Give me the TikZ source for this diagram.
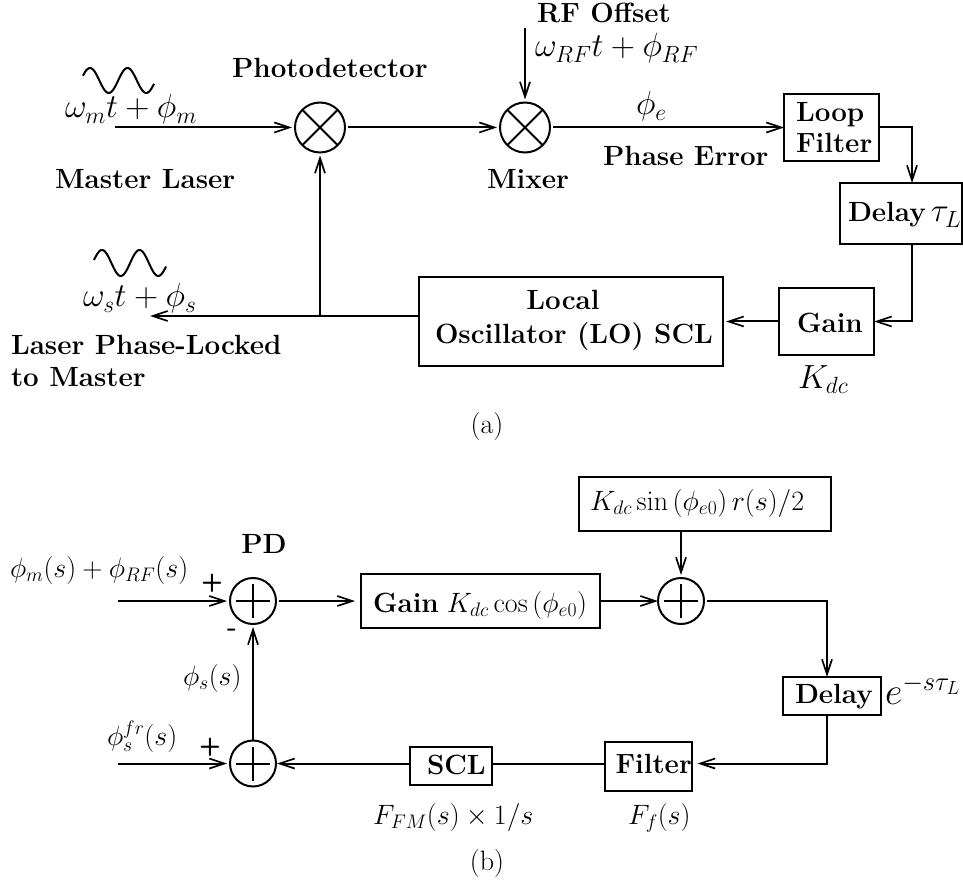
\RequirePackage{fix-cm}
\documentclass[tikz,border=0pt]{standalone}
\usetikzlibrary{arrows.meta}
\tikzset{
  >={Straight Barb[length=15pt,width=10pt,line width=1.7pt]},
  every path/.style={line width=2pt},
  boxn/.style={draw,line width=2pt,inner sep=0pt,outer sep=0pt},
  sumn/.style={draw,circle,line width=2pt,inner sep=0pt,outer sep=0pt,minimum size=46pt},
  mixn/.style={draw,circle,line width=2pt,inner sep=0pt,outer sep=0pt,minimum size=50pt},
  txt/.style={inner sep=0pt,outer sep=0pt,anchor=base west},
  bl/.style={txt,font=\fontsize{27.8}{32}\selectfont\bfseries},
  mb/.style={txt,font=\fontsize{33.5}{40}\selectfont},
  mm/.style={txt,font=\fontsize{28}{32}\selectfont},
  conn/.style={->,line width=2pt},
  gapo/.style={shorten <=3pt},
  gapi/.style={shorten >=3pt},
}
\begin{document}
\begin{tikzpicture}[x=1pt,y=-1pt]
\useasboundingbox (0,0) rectangle (963,882);
% ---------- (a) ----------
\node[mixn] (pd) at (320,127.5) {};
\draw (pd.45) -- (pd.225) (pd.135) -- (pd.315);
\node[mixn] (mx) at (525,127.5) {};
\draw (mx.45) -- (mx.225) (mx.135) -- (mx.315);
\node[boxn,minimum width=95pt,minimum height=67pt] (loop) at (831.5,127.5) {};
\node[boxn,minimum width=122pt,minimum height=61pt] (dly) at (901,213.5) {};
\node[boxn,minimum width=95pt,minimum height=67pt] (gain) at (826.5,321.5) {};
\node[boxn,minimum width=304pt,minimum height=89pt] (lo) at (571,321.5) {};
\coordinate (min) at (115,127.5);
\coordinate (rfin) at (525,28);
\coordinate (lout) at (150,316);
\coordinate (lob) at (419,316);
\coordinate (jn) at (320,316);
\coordinate (lc) at (912,127.5);
\coordinate (dg) at (912,321.5);
\draw[conn,gapi] (min) -- (pd);
\draw[conn,gapo,gapi] (pd) -- (mx);
\draw[conn,gapi] (rfin) -- (mx);
\draw[conn,gapo] (mx) -- (loop);
\draw[conn] (loop.east) -- (lc) -- (dly.north -| lc);
\draw[conn] (dly.south -| dg) -- (dg) -- (gain.east);
\draw[conn,gapi] (gain.west) -- (lo.east);
\draw[conn] (lob) -- (lout);
\draw[conn,gapi] (jn) -- (pd);
\draw (83,80.5) plot[domain=83:154,samples=70,smooth] (\x,{80.5-12.5*cos((\x-90)*9.6)});
\draw (94,263) plot[domain=94:166,samples=70,smooth] (\x,{263-13*cos((\x-102)*9.6)});
\node[mb] (t1) at (65,118) {$\omega_m t+\phi_m$};
\node[bl] (t2) at (232,78) {Photodetector};
\node[bl] (t3) at (55,189) {Master Laser};
\node[bl] (t4) at (537,23) {RF Offset};
\node[mb] (t5) at (535,57) {$\omega_{RF}t+\phi_{RF}$};
\node[mb] (t6) at (636,115) {$\phi_e$};
\node[bl] (t7) at (603,166) {Phase Error};
\node[bl] (t8) at (487,189) {Mixer};
\node[bl] (t9) at (796,122) {Loop};
\node[bl] (t10) at (796,153) {Filter};
\node[bl] (t11) at (848,222) {Delay\hspace{5pt}\fontsize{33.5}{40}\selectfont$\tau_L$};
\node[bl] (t12) at (435,343) {Oscillator (LO) SCL};
\node[bl,anchor=base] (t13) at (563,310) {Local};
\node[bl] (t14) at (797,332) {Gain};
\node[mb] (t15) at (798,388) {$K_{dc}$};
\node[mb] (t16) at (83,307) {$\omega_s t+\phi_s$};
\node[bl] (t17) at (11,354) {Laser Phase-Locked};
\node[bl] (t18) at (11,386) {to Master};
\node[mm,anchor=base] (t19) at (487,433) {(a)};
% ---------- (b) ----------
\node[sumn] (s1) at (253,601) {};
\draw (s1.center) ++(-17,0) -- ++(34,0) (s1.center) ++(0,-17) -- ++(0,34);
\node[sumn] (s2) at (681,601) {};
\draw (s2.center) ++(-17,0) -- ++(34,0) (s2.center) ++(0,-17) -- ++(0,34);
\node[sumn] (s3) at (253,763.5) {};
\draw (s3.center) ++(-17,0) -- ++(34,0) (s3.center) ++(0,-17) -- ++(0,34);
\node[boxn,minimum width=239pt,minimum height=54pt] (gb) at (480.5,601) {};
\node[boxn,minimum width=252.5pt,minimum height=54pt] (sb) at (704.75,504) {};
\node[boxn,minimum width=98pt,minimum height=38pt] (db) at (832,696) {};
\node[boxn,minimum width=86.5pt,minimum height=49pt] (fb) at (648.25,766.5) {};
\node[boxn,minimum width=82pt,minimum height=38pt] (cb) at (450.5,766) {};
\coordinate (in1) at (118,601);
\coordinate (in3) at (118,763.5);
\coordinate (cr) at (827,601);
\coordinate (cd) at (827,763.5);
\coordinate (fr) at (691.5,763.5);
\coordinate (fl) at (605,763.5);
\coordinate (cbr) at (491.5,763.5);
\coordinate (cbl) at (409.5,763.5);
\draw[conn,gapi] (in1) -- (s1);
\draw[conn,gapo,shorten >=6pt] (s1) -- (gb.west);
\draw[conn] (gb.east) -- (s2);
\draw[conn,gapi] (sb.south -| s2) -- (s2);
\draw[conn,gapo] (s2) -- (cr) -- (db.north -| cr);
\draw[conn,shorten >=6pt] (db.south -| cd) -- (cd) -- (fr);
\draw (fl) -- (cbr);
\draw[conn,shorten >=1pt] (cbl) -- (s3);
\draw[conn,gapi] (in3) -- (s3);
\draw[conn,gapi] (s3) -- (s1);
\node[mm] (u1) at (10,577) {$\phi_m(s)+\phi_{RF}(s)$};
\node[bl,anchor=base] (u2) at (264,553) {PD};
\node[txt,anchor=center,font=\fontsize{25}{30}\selectfont\sffamily\bfseries] (u3) at (212,583) {+};
\node[txt,anchor=center,font=\fontsize{28}{30}\selectfont\sffamily\bfseries] (u4) at (232,633) {-};
\node[txt,anchor=center,font=\fontsize{25}{30}\selectfont\sffamily\bfseries] (u5) at (210,747) {+};
\node[mm] (u6) at (183,685) {$\phi_s(s)$};
\node[mm] (u7) at (107,745) {$\phi_s^{fr}(s)$};
\node[bl] (u8) at (373,612) {Gain\hspace{8pt}\fontsize{28}{32}\selectfont$K_{dc}\cos\left(\phi_{e0}\right)$};
\node[mm] (u9) at (590,510) {$K_{dc}\sin\left(\phi_{e0}\right)r(s)/2$};
\node[bl] (u10) at (795,703) {Delay};
\node[txt,font=\fontsize{38}{44}\selectfont] (u11) at (885,704) {$e^{-s\tau_L}$};
\node[bl] (u12) at (615.5,773) {Filter};
\node[bl] (u13) at (427,774) {SCL};
\node[mm] (u14) at (373,824) {$F_{FM}(s)\times 1/s$};
\node[mm] (u15) at (628,824) {$F_f(s)$};
\node[mm,anchor=base] (u16) at (487,870) {(b)};
\end{tikzpicture}
\end{document}
